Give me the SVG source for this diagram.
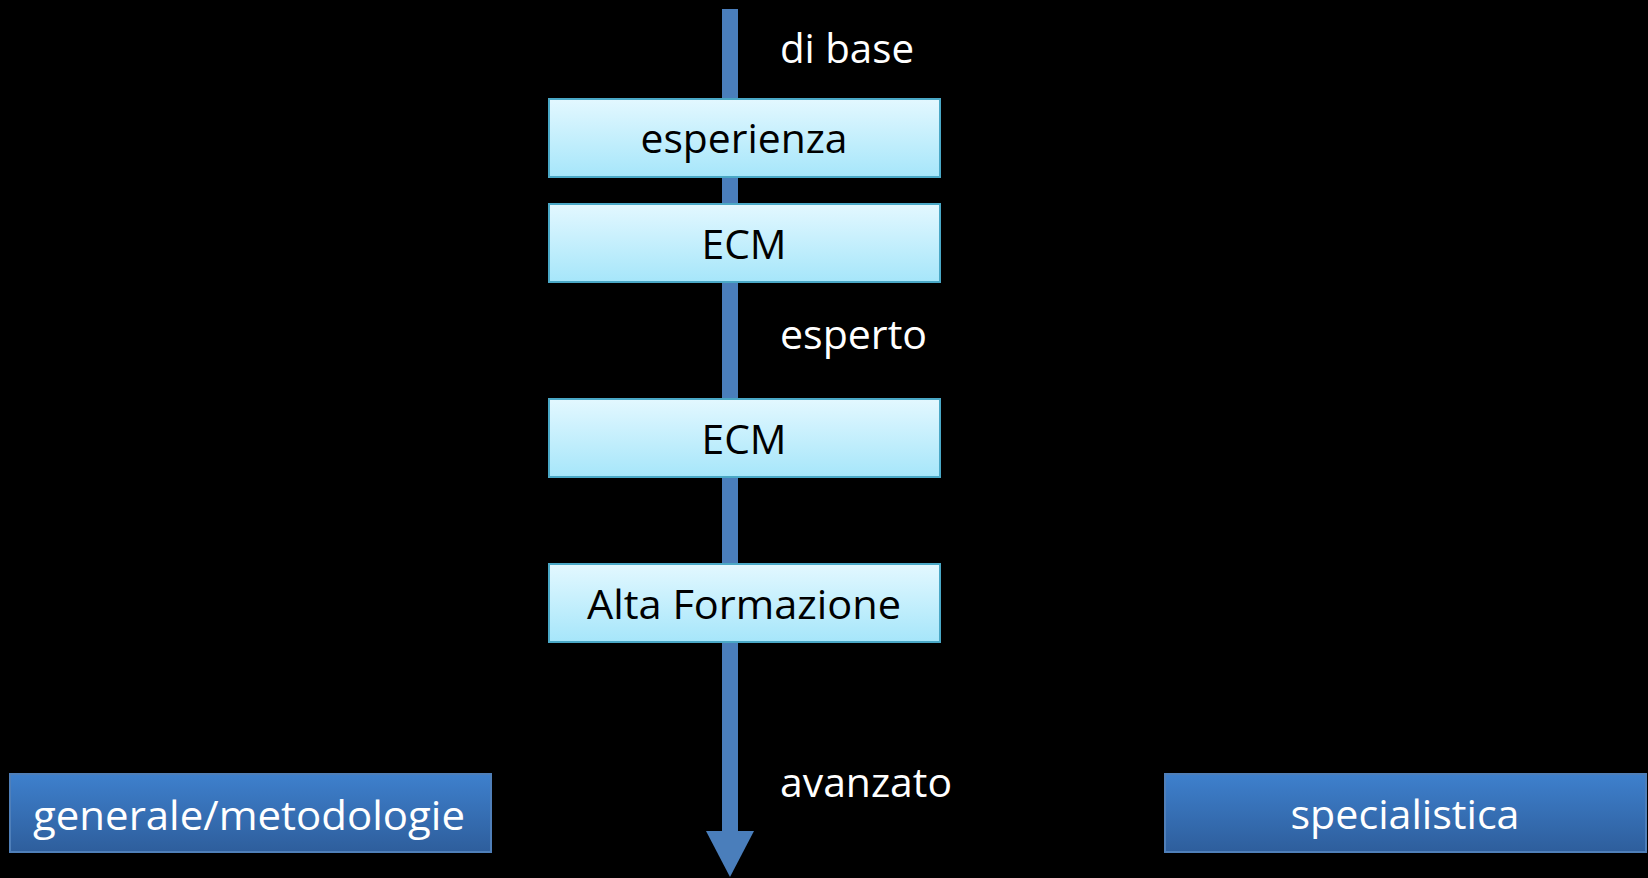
<svg xmlns="http://www.w3.org/2000/svg" width="1648" height="878" viewBox="0 0 1648 878">
  <defs>
    <linearGradient id="light" x1="0" y1="0" x2="0" y2="1">
      <stop offset="0" stop-color="#e3f8ff"/>
      <stop offset="1" stop-color="#a6e6fa"/>
    </linearGradient>
    <linearGradient id="dark" x1="0" y1="0" x2="0" y2="1">
      <stop offset="0" stop-color="#3e80cd"/>
      <stop offset="1" stop-color="#2e5e9c"/>
    </linearGradient>
    <style>
      text { font-family: "Open Sans", "Liberation Sans", sans-serif; font-size: 40px; }
      .step rect { fill: url(#light); stroke: #4aa8c6; stroke-width: 2; }
      .step text { fill: #000; text-anchor: middle; }
      .area rect { fill: url(#dark); stroke: #4f7fb9; stroke-width: 2; }
      .area text { fill: #fff; text-anchor: middle; }
      .level { fill: #fff; }
      .axis { fill: #4a7ebb; }
    </style>
  </defs>

  <rect width="1648" height="878" fill="#000"/>

  <!-- main axis: downward arrow -->
  <g id="connectors">
    <rect class="axis" x="722" y="9" width="16" height="824"/>
    <polygon class="axis" points="706,831 754,831 730,877"/>
  </g>

  <!-- level labels beside the axis -->
  <g id="labels">
    <text class="level" x="780" y="63" textLength="134" lengthAdjust="spacingAndGlyphs">di base</text>
    <text class="level" x="780" y="349" textLength="147" lengthAdjust="spacingAndGlyphs">esperto</text>
    <text class="level" x="780" y="797" textLength="172" lengthAdjust="spacingAndGlyphs">avanzato</text>
  </g>

  <g id="esperienza" class="step">
    <rect x="549" y="99" width="391" height="78"/>
    <text x="744" y="153" textLength="207" lengthAdjust="spacingAndGlyphs">esperienza</text>
  </g>
  <g id="ecm1" class="step">
    <rect x="549" y="204" width="391" height="78"/>
    <text x="744" y="259" textLength="85" lengthAdjust="spacingAndGlyphs">ECM</text>
  </g>
  <g id="ecm2" class="step">
    <rect x="549" y="399" width="391" height="78"/>
    <text x="744" y="454" textLength="85" lengthAdjust="spacingAndGlyphs">ECM</text>
  </g>
  <g id="alta-formazione" class="step">
    <rect x="549" y="564" width="391" height="78"/>
    <text x="744" y="619" textLength="314" lengthAdjust="spacingAndGlyphs">Alta Formazione</text>
  </g>

  <g id="generale" class="area">
    <rect x="10" y="774" width="481" height="78"/>
    <text x="249" y="830" textLength="432" lengthAdjust="spacingAndGlyphs">generale/metodologie</text>
  </g>
  <g id="specialistica" class="area">
    <rect x="1165" y="774" width="481" height="78"/>
    <text x="1405" y="829" textLength="229" lengthAdjust="spacingAndGlyphs">specialistica</text>
  </g>
</svg>
